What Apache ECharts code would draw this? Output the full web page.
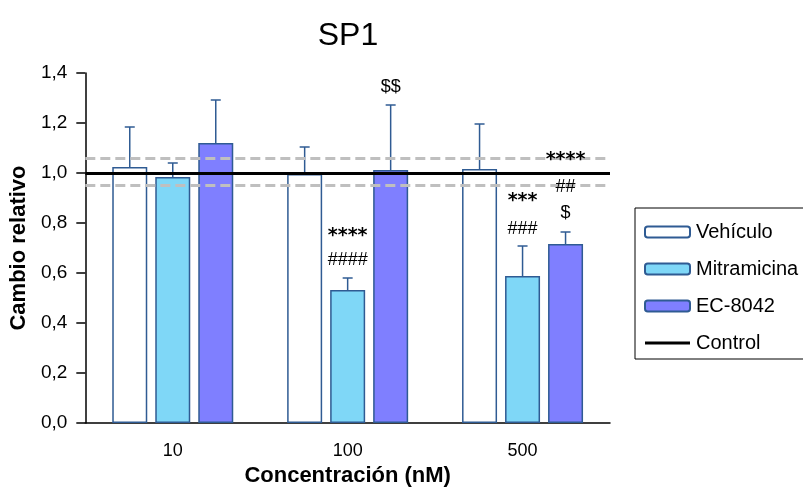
<!DOCTYPE html>
<html>
<head>
<meta charset="utf-8">
<script src="https://cdn.jsdelivr.net/npm/echarts@6/dist/echarts.min.js"></script>
<style>
  html, body { margin: 0; padding: 0; background: #fff; }
  #chart { width: 803px; height: 492px; }
</style>
</head>
<body>
<div id="chart"></div>
<script>
// datos
const categories = ['10', '100', '500']
const vehiculo = [1.024, 0.996, 1.016]
const vehiculoErr = [1.184, 1.104, 1.196]
const mitramicina = [0.984, 0.532, 0.588]
const mitramicinaErr = [1.040, 0.580, 0.708]
const ec8042 = [1.12, 1.012, 0.716]
const ec8042Err = [1.292, 1.272, 0.764]
const controlValue = 1.0
const bandLimits = [1.06, 0.95]
const yTicks = [0, 0.2, 0.4, 0.6, 0.8, 1.0, 1.2, 1.4]

// anotaciones: [categoría, serie, valor y, texto]
const annotations = [
  [1, 1, 0.764, '****'],
  [1, 1, 0.652, '####'],
  [1, 2, 1.345, '$$'],
  [2, 1, 0.904, '***'],
  [2, 1, 0.776, '###'],
  [2, 2, 1.068, '****'],
  [2, 2, 0.944, '##'],
  [2, 2, 0.840, '$'],
]

const FONT = 'Liberation Sans, Arial, sans-serif'
const BORDER = '#2f5b93'
const BAR_W = 35
const BAR_GAP = 8

const chart = echarts.init(document.getElementById('chart'), null, { renderer: 'canvas' })

function barOffset(i) { return (i - 1) * (BAR_W + BAR_GAP) }

function errorSeries(values, errs, idx) {
  return {
    type: 'custom',
    z: 3,
    silent: true,
    data: values.map((v, k) => [k, v, errs[k]]),
    renderItem: function (params, api) {
      const base = api.coord([api.value(0), api.value(1)])
      const top = api.coord([api.value(0), api.value(2)])
      const x = base[0] + barOffset(idx)
      const style = { stroke: BORDER, lineWidth: 1.5 }
      return {
        type: 'group',
        children: [
          { type: 'line', shape: { x1: x, y1: base[1], x2: x, y2: top[1] }, style },
          { type: 'line', shape: { x1: x - 5, y1: top[1], x2: x + 5, y2: top[1] }, style },
        ],
      }
    },
  }
}

function barSeries(name, values, color) {
  return {
    name,
    type: 'bar',
    data: values,
    barWidth: BAR_W,
    barGap: (BAR_GAP / BAR_W * 100) + '%',
    itemStyle: { color, borderColor: BORDER, borderWidth: 1.5 },
    z: 2,
  }
}

const option = {
  backgroundColor: '#fff',
  animation: false,
  textStyle: { fontFamily: FONT },
  title: {
    text: 'SP1',
    left: 343, top: 15,
    textAlign: 'center',
    textStyle: { fontSize: 32, fontWeight: 'normal', color: '#000', fontFamily: FONT },
  },
  grid: { left: 85, right: 193, top: 73, bottom: 69 },
  legend: {
    orient: 'vertical',
    left: 635, top: 208,
    itemWidth: 45, itemHeight: 11,
    itemGap: 17,
    padding: [14, 10, 6, 9],
    borderColor: '#000', borderWidth: 1,
    textStyle: { fontSize: 20, color: '#000', fontFamily: FONT, padding: [0, 0, 0, 1] },
    data: [
      { name: 'Vehículo' },
      { name: 'Mitramicina' },
      { name: 'EC-8042' },
      { name: 'Control', icon: 'path://M0,0 L45,0 L45,3 L0,3 Z', itemStyle: { color: '#000' } },
    ],
  },
  xAxis: {
    type: 'category',
    data: categories,
    name: 'Concentración (nM)',
    nameLocation: 'middle',
    nameGap: 37,
    nameTextStyle: { fontSize: 22, fontWeight: 'bold', color: '#000', fontFamily: FONT },
    axisLine: { lineStyle: { color: '#000', width: 1.5 } },
    axisTick: { show: false },
    axisLabel: { fontSize: 18, color: '#000', margin: 19, fontFamily: FONT },
  },
  yAxis: {
    type: 'value',
    min: 0, max: 1.4, interval: 0.2,
    name: 'Cambio relativo',
    nameLocation: 'middle',
    nameGap: 55,
    nameTextStyle: { fontSize: 22, fontWeight: 'bold', color: '#000', fontFamily: FONT },
    axisLine: { show: true, lineStyle: { color: '#000', width: 1.5 } },
    axisTick: { show: true, length: 9, lineStyle: { color: '#000', width: 1.5 } },
    axisLabel: {
      fontSize: 19, color: '#000', margin: 18, fontFamily: FONT,
      customValues: yTicks,
      formatter: v => v.toFixed(1).replace('.', ','),
    },
    splitLine: { show: false },
  },
  series: [
    barSeries('Vehículo', vehiculo, '#ffffff'),
    barSeries('Mitramicina', mitramicina, '#7fd7f7'),
    barSeries('EC-8042', ec8042, '#7f7fff'),
    errorSeries(vehiculo, vehiculoErr, 0),
    errorSeries(mitramicina, mitramicinaErr, 1),
    errorSeries(ec8042, ec8042Err, 2),
    {
      name: 'Control',
      type: 'line',
      data: [],
      symbol: 'none',
      lineStyle: { color: '#000', width: 3 },
      itemStyle: { color: '#000' },
      z: 5,
      markLine: {
        silent: true,
        symbol: 'none',
        label: { show: false },
        data: [
          { yAxis: bandLimits[0], lineStyle: { color: '#bfbfbf', width: 3, type: [10, 5] } },
          { yAxis: bandLimits[1], lineStyle: { color: '#bfbfbf', width: 3, type: [10, 5] } },
          { yAxis: controlValue, lineStyle: { color: '#000', width: 3, type: 'solid' } },
        ],
      },
    },
    {
      type: 'custom',
      silent: true,
      z: 6,
      data: annotations,
      renderItem: function (params, api) {
        const p = api.coord([api.value(0), api.value(2)])
        const a = annotations[params.dataIndex]
        const stars = a[3].charAt(0) === '*'
        return {
          type: 'text',
          style: {
            x: p[0] + barOffset(a[1]),
            y: p[1] + (stars ? 4 : 0),
            text: a[3],
            fill: '#000',
            font: stars ? 'bold 19px DejaVu Sans, sans-serif' : '18px ' + FONT,
            align: 'center',
            verticalAlign: 'middle',
          },
        }
      },
    },
  ],
}

chart.setOption(option)
</script>
</body>
</html>
